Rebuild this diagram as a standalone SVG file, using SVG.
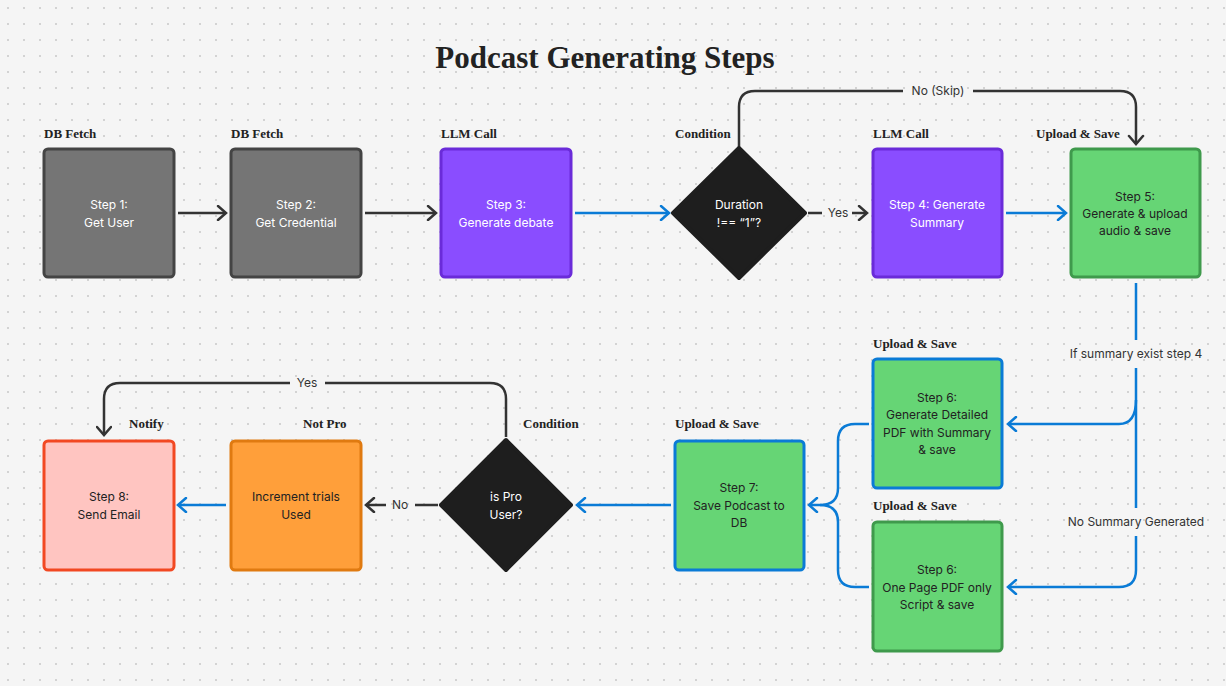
<svg xmlns="http://www.w3.org/2000/svg" width="1226" height="686" viewBox="0 0 1226 686">
<defs>
<pattern id="dots" width="16" height="16" patternUnits="userSpaceOnUse"><circle cx="8" cy="8" r="1" fill="#c8c8c8"/></pattern>
<marker id="ad" viewBox="0 0 12 16" refX="10" refY="8" markerWidth="12" markerHeight="16" markerUnits="userSpaceOnUse" orient="auto"><path d="M2 1 L10 8 L2 15" fill="none" stroke="#333" stroke-width="2.5" stroke-linecap="round"/></marker>
<marker id="ab" viewBox="0 0 12 16" refX="10" refY="8" markerWidth="12" markerHeight="16" markerUnits="userSpaceOnUse" orient="auto"><path d="M2 1 L10 8 L2 15" fill="none" stroke="#0a7bd6" stroke-width="2.5" stroke-linecap="round"/></marker>
</defs>
<style>
.lbl{font-family:"Liberation Serif",serif;font-weight:bold;font-size:13px;fill:#222}
.t{font-family:Inter,"Liberation Sans",sans-serif;font-size:12px;text-anchor:middle}
.w{fill:#fff}.k{fill:#222}
.cl{font-family:Inter,"Liberation Sans",sans-serif;font-size:12px;fill:#333;text-anchor:middle}
.d{fill:none;stroke:#333;stroke-width:2.5}
.b{fill:none;stroke:#0a7bd6;stroke-width:2.5}
.gray{fill:#757575;stroke:#444;stroke-width:3}
.pur{fill:#8a4dff;stroke:#6a2bd9;stroke-width:3}
.grn{fill:#66d575;stroke:#3f9a4c;stroke-width:3}
.grnb{fill:#66d575;stroke:#0a7bd6;stroke-width:3}
.dia{fill:#1e1e1e}
</style>
<rect width="1226" height="686" fill="#f5f5f5"/>
<rect width="1226" height="686" fill="url(#dots)"/>
<text x="605" y="68" font-family="Liberation Serif,serif" font-weight="bold" font-size="31" text-anchor="middle" fill="#222">Podcast Generating Steps</text>

<g id="connectors">
<path class="d" d="M178 213H226" marker-end="url(#ad)"/>
<path class="d" d="M365 213H436" marker-end="url(#ad)"/>
<path class="b" d="M575 213H669" marker-end="url(#ab)"/>
<path class="d" d="M808 213H822M852 213H867" marker-end="url(#ad)"/>
<text class="cl" x="838" y="217">Yes</text>
<path class="d" d="M739 147V107Q739 91 755 91H903M973 91H1120Q1136 91 1136 107V144" marker-end="url(#ad)"/>
<text class="cl" x="938" y="95">No (Skip)</text>
<path class="b" d="M1006 213H1066" marker-end="url(#ab)"/>
<path class="b" d="M1136 283V340M1136 368V508M1136 536V570Q1136 587 1119 587H1008" marker-end="url(#ab)"/>
<path class="b" d="M1136 400Q1136 424 1119 424H1008" marker-end="url(#ab)"/>
<text class="cl" x="1136" y="358">If summary exist step 4</text>
<text class="cl" x="1136" y="526">No Summary Generated</text>
<path class="b" d="M869 424H855Q838 424 838 441V488Q838 505 820 505H809" marker-end="url(#ab)"/>
<path class="b" d="M869 587H855Q838 587 838 570V522Q838 505 820 505"/>
<path class="b" d="M671 505H577" marker-end="url(#ab)"/>
<path class="d" d="M438 505H415M386 505H366" marker-end="url(#ad)"/>
<text class="cl" x="400" y="509">No</text>
<path class="b" d="M226 505H178" marker-end="url(#ab)"/>
<path class="d" d="M506 437V399Q506 383 490 383H325M290 383H120Q104 383 104 399V435" marker-end="url(#ad)"/>
<text class="cl" x="307" y="387">Yes</text>
</g>

<g id="step1"><text class="lbl" x="44" y="138">DB Fetch</text><rect class="gray" x="44" y="149" width="130" height="128" rx="4"/><text class="t w" x="109" y="209">Step 1:</text><text class="t w" x="109" y="227">Get User</text></g>
<g id="step2"><text class="lbl" x="231" y="138">DB Fetch</text><rect class="gray" x="231" y="149" width="130" height="128" rx="4"/><text class="t w" x="296" y="209">Step 2:</text><text class="t w" x="296" y="227">Get Credential</text></g>
<g id="step3"><text class="lbl" x="441" y="138">LLM Call</text><rect class="pur" x="441" y="149" width="130" height="128" rx="4"/><text class="t w" x="506" y="209">Step 3:</text><text class="t w" x="506" y="227">Generate debate</text></g>
<g id="cond1"><text class="lbl" x="675" y="138">Condition</text><path class="dia" d="M739 148L805 213L739 278L673 213Z" stroke="#1e1e1e" stroke-width="4" stroke-linejoin="round"/><text class="t w" x="739" y="209">Duration</text><text class="t w" x="739" y="227">!== “1”?</text></g>
<g id="step4"><text class="lbl" x="873" y="138">LLM Call</text><rect class="pur" x="873" y="149" width="129" height="128" rx="4"/><text class="t w" x="937" y="209">Step 4: Generate</text><text class="t w" x="937" y="227">Summary</text></g>
<g id="step5"><text class="lbl" x="1036" y="138">Upload &amp; Save</text><rect class="grn" x="1071" y="149" width="129" height="128" rx="4"/><text class="t k" x="1135" y="201">Step 5:</text><text class="t k" x="1135" y="218">Generate &amp; upload</text><text class="t k" x="1135" y="235">audio &amp; save</text></g>
<g id="step6a"><text class="lbl" x="873" y="348">Upload &amp; Save</text><rect class="grnb" x="873" y="359" width="129" height="129" rx="4"/><text class="t k" x="937" y="402">Step 6:</text><text class="t k" x="937" y="419">Generate Detailed</text><text class="t k" x="937" y="437">PDF with Summary</text><text class="t k" x="937" y="454">&amp; save</text></g>
<g id="step6b"><text class="lbl" x="873" y="510">Upload &amp; Save</text><rect class="grn" x="873" y="522" width="129" height="129" rx="4"/><text class="t k" x="937" y="574">Step 6:</text><text class="t k" x="937" y="592">One Page PDF only</text><text class="t k" x="937" y="609">Script &amp; save</text></g>
<g id="step7"><text class="lbl" x="675" y="428">Upload &amp; Save</text><rect class="grnb" x="675" y="441" width="129" height="129" rx="4"/><text class="t k" x="739" y="492">Step 7:</text><text class="t k" x="739" y="510">Save Podcast to</text><text class="t k" x="739" y="527">DB</text></g>
<g id="cond2"><text class="lbl" x="523" y="428">Condition</text><path class="dia" d="M506 440L571 505L506 570L441 505Z" stroke="#1e1e1e" stroke-width="4" stroke-linejoin="round"/><text class="t w" x="506" y="501">is Pro</text><text class="t w" x="506" y="519">User?</text></g>
<g id="notpro"><text class="lbl" x="303" y="428">Not Pro</text><rect x="231" y="441" width="130" height="129" rx="4" fill="#ff9f3a" stroke="#e07a10" stroke-width="3"/><text class="t k" x="296" y="501">Increment trials</text><text class="t k" x="296" y="519">Used</text></g>
<g id="step8"><text class="lbl" x="129" y="428">Notify</text><rect x="44" y="441" width="130" height="129" rx="4" fill="#ffc5c1" stroke="#f24822" stroke-width="3"/><text class="t k" x="109" y="501">Step 8:</text><text class="t k" x="109" y="519">Send Email</text></g>
</svg>
